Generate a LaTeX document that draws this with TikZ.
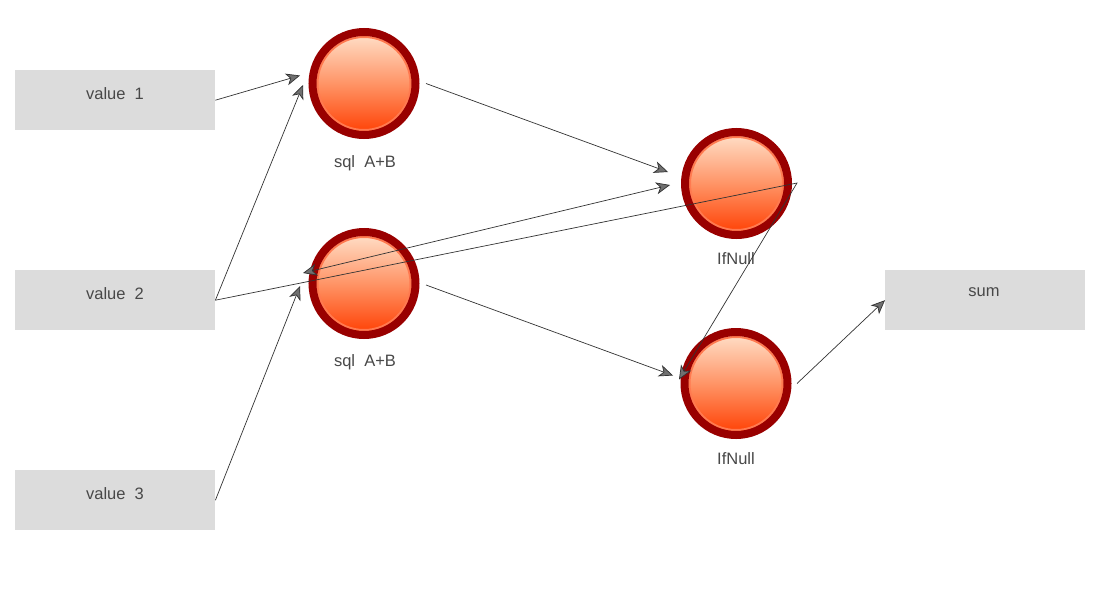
\documentclass[tikz,border=0pt]{standalone}
\usepackage{fontspec}
\setmainfont{Liberation Sans}
\usetikzlibrary{arrows.meta,calc}
\definecolor{ring}{HTML}{990000}
\definecolor{boxgray}{HTML}{DCDCDC}
\definecolor{txt}{HTML}{484848}
\definecolor{ln}{HTML}{333333}
\definecolor{topc}{HTML}{FFE2CC}
\definecolor{midc}{HTML}{FF9466}
\definecolor{botc}{HTML}{FF3D00}
\definecolor{rim}{HTML}{FF7A50}
\begin{document}
\begin{tikzpicture}[x=1pt,y=-1pt,
  databox/.style={fill=boxgray, minimum width=200pt, minimum height=60pt, inner sep=0pt, anchor=north west},
  boxtext/.style={text=txt, inner sep=0pt, font=\fontsize{16.5}{19}\selectfont},
  op/.style={circle, minimum size=103pt, inner sep=0pt, draw=ring, line width=8pt,
    top color=topc, bottom color=botc, middle color=midc,
    path picture={\draw[rim, line width=2pt] (path picture bounding box.center) circle[radius=46.5pt];}},
  conn/.style={draw=ln, line width=0.7pt},
  tip/.style={-{Stealth[length=14pt,width=12pt,inset=4pt,fill=ln!70]}},
  bitip/.style={{Stealth[length=14pt,width=12pt,inset=4pt,fill=ln!70]}-{Stealth[length=14pt,width=12pt,inset=4pt,fill=ln!70]}},
]
\useasboundingbox[fill=white] (0,0) rectangle (1100,600);

% data boxes
\node[databox] (v1) at (15,70) {};
\node[databox] (v2) at (15,270) {};
\node[databox] (v3) at (15,470) {};
\node[databox] (sum) at (885,270) {};
\node[boxtext] (t1) at (115,94) {value~~1};
\node[boxtext] (t2) at (115,294) {value~~2};
\node[boxtext] (t3) at (115,494) {value~~3};
\node[boxtext] (ts) at (984,292) {sum};

% operators
\node[op] (c1) at (364,83.5) {};
\node[op] (c2) at (364,283.5) {};
\node[op] (n1) at (736.5,183.5) {};
\node[op] (n2) at (736,383.5) {};
\node[boxtext] (l1) at (365,163) {sql~~A+B};
\node[boxtext] (l2) at (365,362) {sql~~A+B};
\node[boxtext] (l3) at (736,259) {IfNull};
\node[boxtext] (l4) at (736,459) {IfNull};

\coordinate (k) at ($(n1.center)+(60.5,-0.5)$);

% connectors
\draw[conn,tip] (v1.east) -- ($(c1.center)+(-64,-8)$);
\draw[conn,tip] (v2.east) -- ($(c1.center)+(-61,1.5)$);
\draw[conn,tip] (v3.east) -- ($(c2.center)+(-64,2.5)$);
\draw[conn,bitip] ($(c2.center)+(-61,-10.5)$) -- ($(n1.center)+(-66.5,1.5)$);
\draw[conn,tip] ($(c1.center)+(62,0)$) -- ($(n1.center)+(-68.5,-11.5)$);
\draw[conn,tip] ($(c2.center)+(62,1.5)$) -- ($(n2.center)+(-63,-8)$);
\draw[conn,tip] (v2.east) -- (k) -- ($(n2.center)+(-57,-4)$);
\draw[conn,tip] ($(n2.center)+(61,0)$) -- (sum.west);
\end{tikzpicture}
\end{document}
